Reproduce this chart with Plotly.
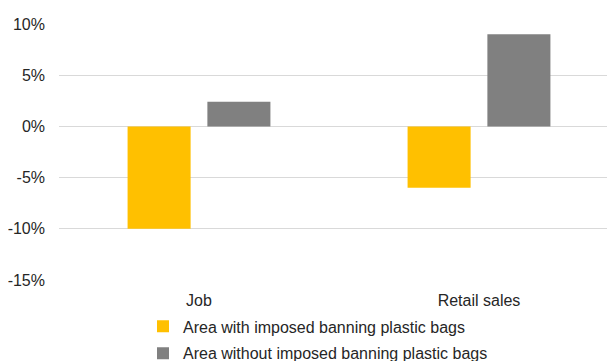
import plotly.graph_objects as go

categories = ["Job", "Retail sales"]
series_names = ["Area with imposed banning plastic bags", "Area without imposed banning plastic bags"]
with_ban = [-10.0, -6.0]
without_ban = [2.4, 9.0]
tick_vals = [-15, -10, -5, 0, 5, 10]
tick_text = ["-15%", "-10%", "-5%", "0%", "5%", "10%"]

colors = ["#FFC000", "#808080"]

fig = go.Figure()
for name, vals, col, grp in zip(series_names, [with_ban, without_ban], colors, ["a", "b"]):
    fig.add_trace(go.Bar(x=categories, y=vals, name=name, marker=dict(color=col, line=dict(width=0)),
                         legendgroup=grp))

font = dict(family="Liberation Sans, Arial, sans-serif", size=16, color="#262626")
fig.update_layout(
    width=615, height=361,
    margin=dict(l=51, r=4, t=16, b=89, autoexpand=False),
    paper_bgcolor="white", plot_bgcolor="white",
    font=font,
    barmode="group", bargap=0.43, bargroupgap=0.21,
    showlegend=True,
    legend=dict(orientation="v", x=0.15, xanchor="left", y=-0.115, yanchor="top",
                font=font, tracegroupgap=3, bgcolor="rgba(0,0,0,0)"),
    xaxis=dict(showgrid=False, showline=False, ticks="", tickfont=font, ticklabelstandoff=9),
    yaxis=dict(range=[-15, 10], tickvals=tick_vals, ticktext=tick_text, showgrid=True,
               gridcolor="#D9D9D9", gridwidth=1, zeroline=True, zerolinecolor="#D9D9D9",
               zerolinewidth=1, showline=False, ticks="", tickfont=font, ticklabelstandoff=13),
)
fig.write_html("out.html")
